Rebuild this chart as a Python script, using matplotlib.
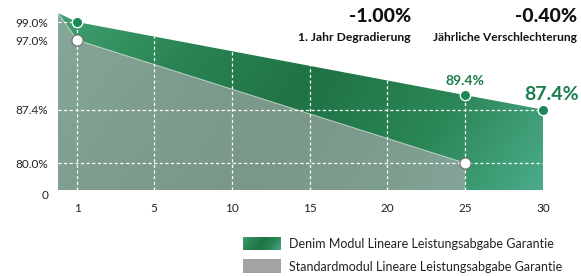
import numpy as np
import matplotlib.pyplot as plt
from matplotlib.colors import LinearSegmentedColormap
from matplotlib.patches import Polygon, Rectangle

plt.rcParams['font.family'] = ['Lato', 'DejaVu Sans']

years_denim = [0, 1, 25, 30]
denim = [100.0, 99.0, 89.4, 87.4]
years_std = [0, 1, 25]
standard = [100.0, 97.0, 80.0]

xticks = [1, 5, 10, 15, 20, 25, 30]
yticks = [0, 80.0, 87.4, 97.0, 99.0]
ytick_labels = ['0', '80.0%', '87.4%', '97.0%', '99.0%']
grid_y = [80.0, 87.4, 99.0]
grid_x = [1, 5, 10, 15, 20, 25]

green_dark = '#1b8a58'
label_green = '#1a7d4c'
text_col = '#222222'


# broken x axis: first years stretched
def fx(x):
    x = np.asarray(x, float)
    return np.where(x < 5, 5 - (5 - x) * 1.236, x)

def fx_inv(u):
    u = np.asarray(u, float)
    return np.where(u < 5, 5 - (5 - u) / 1.236, u)

# broken y axis: 0..80 squeezed, top stretched
def fy(v):
    v = np.asarray(v, float)
    return np.where(v < 80, 80 - (80 - v) * 0.0464, np.where(v > 97, 97 + (v - 97) * 1.25, v))

def fy_inv(u):
    u = np.asarray(u, float)
    return np.where(u < 80, 80 - (80 - u) / 0.0464, np.where(u > 97, 97 + (u - 97) / 1.25, u))


cmap = LinearSegmentedColormap.from_list('denim', ['#40a070', '#2a8352', '#1f7344', '#2b8656', '#4bab8a'])
gx, gy = np.meshgrid(np.linspace(0, 1, 300), np.linspace(0, 1, 100))
grad = 0.8 * gx + 0.2 * (1 - gy)

fig = plt.figure(figsize=(5.81, 2.76), dpi=100)
ax = fig.add_axes([58 / 581, 86 / 276, 485 / 581, 177 / 276])
ax.set_xscale('function', functions=(fx, fx_inv))
ax.set_yscale('function', functions=(fy, fy_inv))

green_poly = Polygon(list(zip(years_denim, denim)) + [(30, 0), (0, 0)],
                     closed=True, facecolor='none', edgecolor='none')
ax.add_patch(green_poly)
img = ax.imshow(grad, cmap=cmap, extent=[0, 1, 0, 1], origin='lower',
                transform=ax.transAxes, aspect='auto', zorder=1)
img.set_clip_path(green_poly)

gray_poly = Polygon(list(zip(years_std, standard)) + [(25, 0), (0, 0)],
                    closed=True, facecolor='#aaabae', alpha=0.66, edgecolor='none', zorder=2)
ax.add_patch(gray_poly)
ax.plot(years_std, standard, color='white', lw=0.7, alpha=0.6, zorder=3)

for y in grid_y:
    ln = ax.axhline(y, color='white', lw=0.9, ls=(0, (2.5, 2)), zorder=3)
    ln.set_clip_path(green_poly)
for x in grid_x:
    ln = ax.axvline(x, color='white', lw=0.9, ls=(0, (2.5, 2)), zorder=3)
    ln.set_clip_path(green_poly)

ax.plot(years_denim[1:], denim[1:], ls='none', marker='o', ms=7.5,
        markerfacecolor=green_dark, markeredgecolor='white', markeredgewidth=1.0, zorder=5, clip_on=False)
ax.plot(years_std[1:], standard[1:], ls='none', marker='o', ms=8,
        markerfacecolor='white', markeredgecolor='#6f6f6f', markeredgewidth=0.8, zorder=5, clip_on=False)

ax.annotate('89.4%', (years_denim[2], denim[2]), xytext=(0, 6), textcoords='offset points',
            ha='center', va='bottom', fontsize=10, fontweight='bold', color=label_green)
ax.annotate('87.4%', (years_denim[3], denim[3]), xytext=(6.5, 11), textcoords='offset points',
            ha='center', va='center', fontsize=14, fontweight='bold', color=label_green)

ax.set_xlim(0, 30)
ax.set_ylim(0, 100)
ax.set_xticks(xticks)
ax.set_xticklabels([str(t) for t in xticks])
ax.set_yticks(yticks)
ax.set_yticklabels(ytick_labels)
ax.tick_params(axis='both', length=0, labelsize=8.5, colors=text_col)
ax.tick_params(axis='x', pad=9)
ax.tick_params(axis='y', pad=7)
ax.get_yticklabels()[0].set_va('top')
for s in ax.spines.values():
    s.set_visible(False)

# header figures
fig.text(411 / 581, 1 - 17 / 276, '-1.00%', ha='right', va='center', fontsize=14, fontweight='black', color='#111111')
fig.text(411 / 581, 1 - 38 / 276, '1. Jahr Degradierung', ha='right', va='center', fontsize=8.7, fontweight='bold', color='#111111')
fig.text(577 / 581, 1 - 17 / 276, '-0.40%', ha='right', va='center', fontsize=14, fontweight='black', color='#111111')
fig.text(577 / 581, 1 - 38 / 276, 'Jährliche Verschlechterung', ha='right', va='center', fontsize=8.6, fontweight='bold', color='#111111')

# legend
lax = fig.add_axes([243 / 581, 1 - 250 / 276, 38 / 581, 13 / 276])
lax.imshow(grad, cmap=cmap, aspect='auto', origin='lower')
lax.axis('off')
fig.patches.append(Rectangle((243 / 581, 1 - 273 / 276), 38 / 581, 14 / 276,
                             transform=fig.transFigure, facecolor='#a3a3a3', edgecolor='none'))
fig.text(289 / 581, 1 - 244 / 276, 'Denim Modul Lineare Leistungsabgabe Garantie', ha='left', va='center', fontsize=9, color=text_col)
fig.text(289 / 581, 1 - 267 / 276, 'Standardmodul Lineare Leistungsabgabe Garantie', ha='left', va='center', fontsize=9, color=text_col)

fig.savefig('out.png', dpi=100)
